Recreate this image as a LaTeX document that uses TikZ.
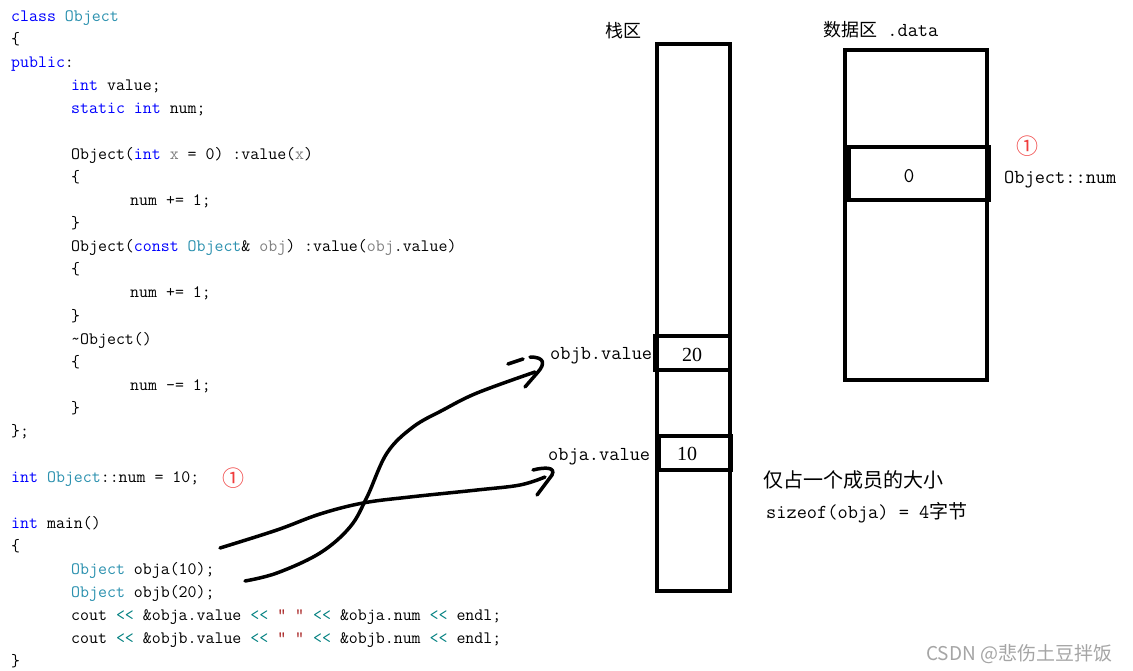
\documentclass[tikz,border=0pt]{standalone}
\usepackage{fontspec}
\newfontfamily\codefont[Ligatures=TeXOff]{Latin Modern Mono}
\newfontfamily\cjkfont{Noto Sans CJK SC}
\newfontfamily\numfont{Liberation Serif}
\definecolor{kwc}{RGB}{0,0,255}
\definecolor{tyc}{RGB}{43,145,175}
\definecolor{pac}{RGB}{128,128,128}
\definecolor{opc}{RGB}{0,128,128}
\definecolor{stc}{RGB}{163,21,21}
\definecolor{circc}{RGB}{240,60,60}
\definecolor{wmc}{RGB}{165,165,165}
\newcommand\ckw[1]{\textcolor{kwc}{#1}}
\newcommand\cty[1]{\textcolor{tyc}{#1}}
\newcommand\cpa[1]{\textcolor{pac}{#1}}
\newcommand\cop[1]{\textcolor{opc}{#1}}
\newcommand\cst[1]{\textcolor{stc}{#1}}
\begin{document}
\begin{tikzpicture}[x=1pt,y=-1pt,
  codeln/.style={anchor=base west, inner sep=0pt, font=\codefont\fontsize{17.4}{22}\selectfont},
  labtxt/.style={anchor=base west, inner sep=0pt, font=\codefont\fontsize{19.8}{24}\selectfont},
  cjktxt/.style={anchor=base west, inner sep=0pt, font=\cjkfont\fontsize{19}{22}\selectfont},
  numtxt/.style={anchor=base, inner sep=0pt, font=\numfont\fontsize{20}{24}\selectfont},
  circnum/.style={inner sep=0pt, text=circc, font=\cjkfont\fontsize{22}{26}\selectfont},
  memrect/.style={draw, line width=4pt, inner sep=0pt, minimum width=#1},
  handline/.style={line width=3.5pt, line cap=round, line join=round}]
\fill[white] (0,0) rectangle (1133,671);
\useasboundingbox (0,0) rectangle (1133,671);

% code lines (baseline = 22 + 23k)
\node[codeln] (c0)  at (11,22)  {\ckw{class} \cty{Object}};
\node[codeln] (c1)  at (11,45)  {\{};
\node[codeln] (c2)  at (11,68)  {\ckw{public}:};
\node[codeln] (c3)  at (71,91)  {\ckw{int} value;};
\node[codeln] (c4)  at (71,114) {\ckw{static} \ckw{int} num;};
\node[codeln] (c6)  at (71,160) {Object(\ckw{int} \cpa{x} = 0) :value(\cpa{x})};
\node[codeln] (c7)  at (71,183) {\{};
\node[codeln] (c8)  at (130,206) {num += 1;};
\node[codeln] (c9)  at (71,229) {\}};
\node[codeln] (c10) at (71,252) {Object(\ckw{const} \cty{Object}\& \cpa{obj}) :value(\cpa{obj}.value)};
\node[codeln] (c11) at (71,275) {\{};
\node[codeln] (c12) at (130,298) {num += 1;};
\node[codeln] (c13) at (71,321) {\}};
\node[codeln] (c14) at (71,344) {\textasciitilde Object()};
\node[codeln] (c15) at (71,367) {\{};
\node[codeln] (c16) at (130,390) {num -= 1;};
\node[codeln] (c17) at (71,413) {\}};
\node[codeln] (c18) at (11,436) {\};};
\node[codeln] (c20) at (11,482) {\ckw{int} \cty{Object}::num = 10;};
\node[circnum] (n1) at (233,478) {①};
\node[codeln] (c22) at (11,528) {\ckw{int} main()};
\node[codeln] (c23) at (11,551) {\{};
\node[codeln] (c24) at (71,574) {\cty{Object} obja(10);};
\node[codeln] (c25) at (71,597) {\cty{Object} objb(20);};
\node[codeln] (c26) at (71,620) {cout \cop{<<} \&obja.value \cop{<<} \cst{” ”} \cop{<<} \&obja.num \cop{<<} endl;};
\node[codeln] (c27) at (71,643) {cout \cop{<<} \&objb.value \cop{<<} \cst{” ”} \cop{<<} \&objb.num \cop{<<} endl;};
\node[codeln] (c28) at (11,666) {\}};

% stack area
\node[cjktxt, font=\cjkfont\fontsize{18}{22}\selectfont] (stk) at (605,38) {栈区};
\node[memrect=72.5, minimum height=547] (stack) at (693.25,317.5) {};
\node[memrect=74.5, minimum height=34] (cellb) at (692.25,353) {};
\node[memrect=72, minimum height=34] (cella) at (695,453) {};
\node[numtxt] (vb) at (692,361) {20};
\node[numtxt] (va) at (687,460) {10};
\node[labtxt] (lb) at (550,359) {objb.value};
\node[labtxt] (la) at (548,460) {obja.value};

% data area
\node[anchor=base west, inner sep=0pt] (dat) at (823,37) {{\cjkfont\fontsize{18}{22}\selectfont 数据区}{\codefont\fontsize{19.8}{24}\selectfont\ .data}};
\node[memrect=142, minimum height=330] (data) at (916,215) {};
\node[memrect=140, minimum height=53] (celln) at (919,173.5) {};
\node[anchor=base, inner sep=0pt, font=\codefont\fontsize{21}{24}\selectfont] (v0) at (909,183) {0};
\node[circnum] (n2) at (1027,146) {①};
\node[labtxt] (onum) at (1004,184) {Object::num};

% notes
\node[cjktxt, font=\cjkfont\fontsize{20}{24}\selectfont] (note1) at (763,487) {仅占一个成员的大小};
\node[anchor=base west, inner sep=0pt] (note2) at (766,518) {{\codefont\fontsize{19.8}{24}\selectfont sizeof(obja) = 4}{\cjkfont\fontsize{19}{22}\selectfont 字节}};

% watermark
\node[anchor=base west, inner sep=0pt, text=wmc, font=\cjkfont\fontsize{19}{22}\selectfont] (wm) at (926,660) {CSDN @悲伤土豆拌饭};

% hand-drawn arrows
\coordinate (sa) at (220,548);
\coordinate (ea) at (545,477);
\coordinate (sb) at (245,581);
\coordinate (eb) at (535,372);
\draw[handline] plot[smooth, tension=0.6] coordinates {(sa) (277,530) (320,514) (363,503) (410,497) (477,490) (520,485) (ea)};
\draw[handline] (533,470) .. controls (545,467) and (556,467) .. (552,475) -- (537,495);
\draw[handline] plot[smooth, tension=0.6] coordinates {(sb) (277,573) (320,553) (350,527) (367,497) (387,453) (413,427) (443,410) (477,393) (eb)};
\draw[handline] (508,364) -- (523,359);
\draw[handline] (530,357) .. controls (545,357) and (545,364) .. (538,372) -- (525,387);
\end{tikzpicture}
\end{document}
